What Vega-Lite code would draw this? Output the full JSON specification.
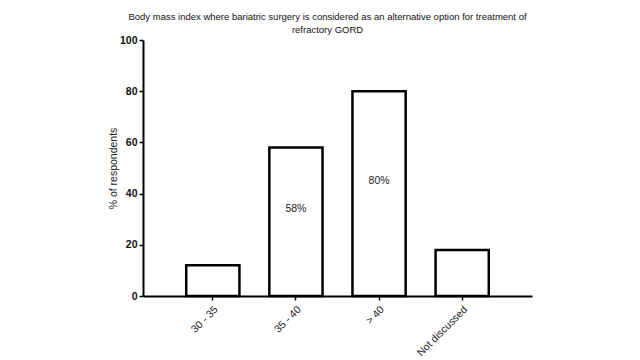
{
  "$schema": "https://vega.github.io/schema/vega-lite/v6.json",
  "autosize": "none",
  "width": 389,
  "height": 256,
  "padding": {"left": 143, "top": 40, "right": 108, "bottom": 64},
  "background": "white",
  "config": {"view": {"stroke": null}, "font": "Liberation Sans"},
  "title": {
    "text": ["Body mass index where bariatric surgery is considered as an alternative option for treatment of", "refractory GORD"],
    "fontSize": 9.5,
    "fontWeight": "normal",
    "color": "#111",
    "anchor": "middle",
    "dx": -10,
    "offset": 1,
    "lineHeight": 13
  },
  "data": {
    "values": [
      {"bmi": "30 - 35", "pct": 12, "label": ""},
      {"bmi": "35 - 40", "pct": 58, "label": "58%"},
      {"bmi": "> 40", "pct": 80, "label": "80%"},
      {"bmi": "Not discussed", "pct": 18, "label": ""}
    ]
  },
  "encoding": {
    "x": {
      "field": "bmi",
      "type": "nominal",
      "sort": null,
      "scale": {"paddingInner": 0.36, "paddingOuter": 0.52},
      "axis": {
        "title": null,
        "labelAngle": -45,
        "labelAlign": "right",
        "labelBaseline": "top",
        "labelFontSize": 10.5,
        "labelColor": "#222",
        "labelPadding": 4,
        "domainColor": "black",
        "domainWidth": 2,
        "tickColor": "black",
        "tickWidth": 1.5,
        "tickSize": 4
      }
    }
  },
  "layer": [
    {
      "mark": {"type": "bar", "fill": "white", "stroke": "black", "strokeWidth": 2.5},
      "encoding": {
        "y": {
          "field": "pct",
          "type": "quantitative",
          "scale": {"domain": [0, 100]},
          "axis": {
            "title": "% of respondents",
            "titleFontSize": 10.5,
            "titleFontWeight": "normal",
            "titleColor": "#222",
            "titlePadding": 1,
            "values": [0, 20, 40, 60, 80, 100],
            "labelFontSize": 10.5,
            "labelFontWeight": "bold",
            "labelColor": "#111",
            "labelPadding": 2,
            "grid": false,
            "domainColor": "black",
            "domainWidth": 2,
            "tickColor": "black",
            "tickWidth": 1.5,
            "tickSize": 4
          }
        }
      }
    },
    {
      "transform": [{"calculate": "datum.pct / 2 + 5", "as": "labelPos"}],
      "mark": {"type": "text", "fontSize": 10.5, "color": "#222"},
      "encoding": {
        "y": {"field": "labelPos", "type": "quantitative"},
        "text": {"field": "label"}
      }
    }
  ]
}
